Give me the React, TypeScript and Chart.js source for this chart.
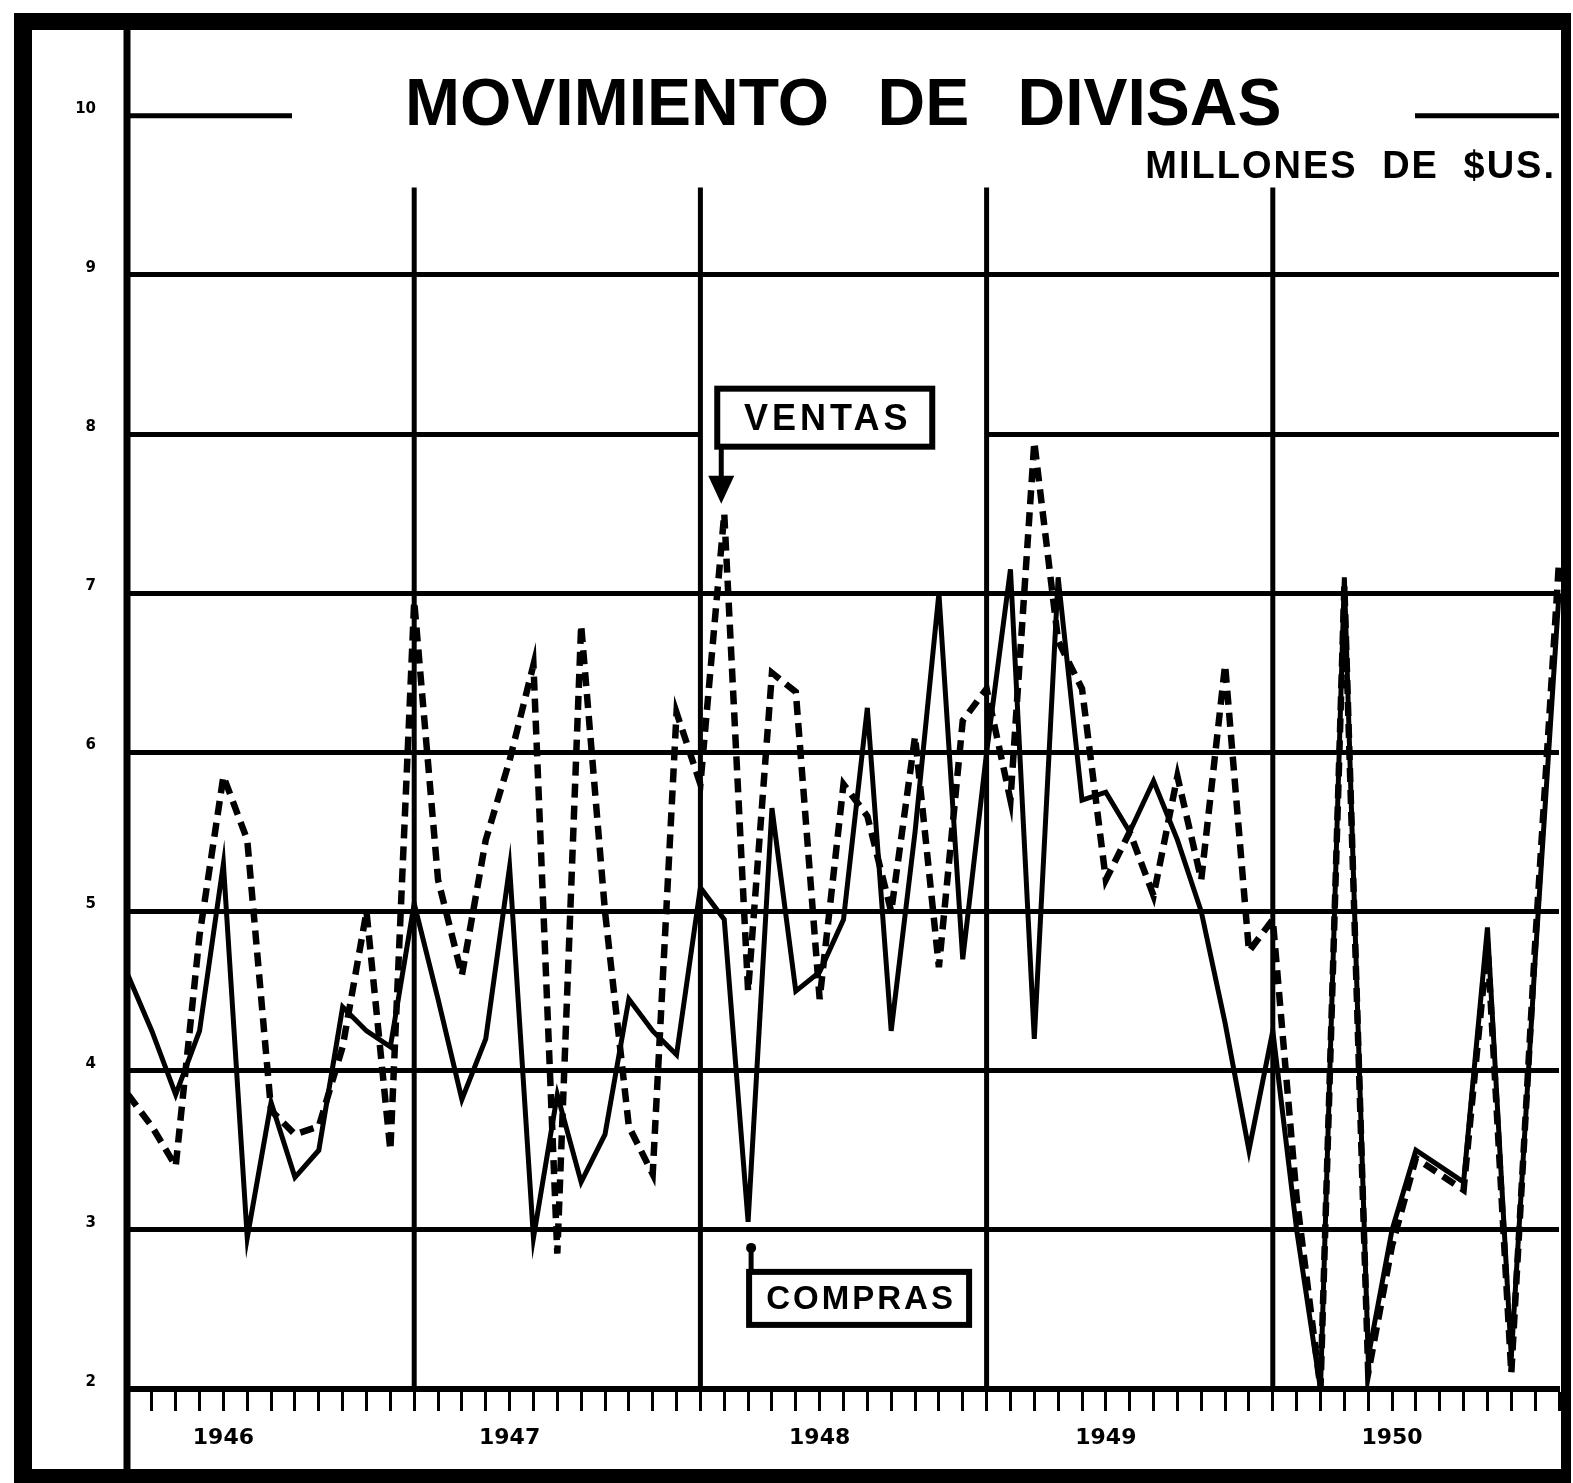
import React, { useEffect, useRef } from 'react';
import { Chart, registerables } from 'chart.js';

Chart.register(...registerables);

// ---------- DATA ----------
const YEARS = ['1946', '1947', '1948', '1949', '1950', '1951'];
const MONTHS_ES = ['Ene', 'Feb', 'Mar', 'Abr', 'May', 'Jun', 'Jul', 'Ago', 'Sep', 'Oct', 'Nov', 'Dic'];
const MONTH_LABELS: string[] = YEARS.flatMap((y) => MONTHS_ES.map((m) => `${m} ${y}`)).slice(0, 61);

// Compras (línea llena), millones de $US.
const COMPRAS = [
  4.6, 4.25, 3.85, 4.25, 5.3, 2.95, 3.8, 3.33, 3.5, 4.4, 4.25, 4.15,
  5.05, 4.45, 3.82, 4.2, 5.28, 2.95, 3.85, 3.3, 3.6, 4.45, 4.25, 4.1,
  5.15, 4.95, 3.05, 5.65, 4.5, 4.62, 4.95, 6.28, 4.25, 5.5, 7.0, 4.7,
  6.0, 7.15, 4.2, 7.1, 5.7, 5.75, 5.5, 5.82, 5.45, 5.0, 4.3, 3.5,
  4.25, 3.0, 2.0, 7.1, 2.2, 3.0, 3.5, 3.4, 3.3, 4.9, 2.2, 4.7, 7.0,
];

// Ventas (línea de trazos), millones de $US.
const VENTAS = [
  3.85, 3.65, 3.4, 4.85, 5.85, 5.45, 3.75, 3.6, 3.65, 4.15, 5.0, 3.5,
  6.95, 5.2, 4.6, 5.45, 5.95, 6.55, 2.85, 6.8, 5.0, 3.65, 3.35, 6.25,
  5.8, 7.5, 4.5, 6.5, 6.38, 4.45, 5.8, 5.6, 5.0, 6.1, 4.65, 6.2,
  6.4, 5.7, 7.95, 6.7, 6.4, 5.2, 5.5, 5.1, 5.85, 5.2, 6.55, 4.75,
  4.95, 3.2, 2.0, 7.05, 2.1, 2.9, 3.45, 3.35, 3.25, 4.8, 2.1, 4.8, 7.2,
];

const Y_TICKS = [2, 3, 4, 5, 6, 7, 8, 9, 10];
const Y_FULL_GRID = [3, 4, 5, 6, 7, 8, 9];
const X_YEAR_TICKS: Record<string, string> = {
  'May 1946': '1946',
  'May 1947': '1947',
  'Jun 1948': '1948',
  'Jun 1949': '1949',
  'Jun 1950': '1950',
};
const YEAR_STARTS = ['Ene 1947', 'Ene 1948', 'Ene 1949', 'Ene 1950'];

const TITLE = 'MOVIMIENTO DE DIVISAS';
const SUBTITLE = 'MILLONES DE $US.';
const VENTAS_TAG = 'VENTAS';
const VENTAS_ANCHOR = 'Feb 1948';
const COMPRAS_TAG = 'COMPRAS';
const COMPRAS_ANCHOR = 'Mar 1948';

const W = 1573;
const H = 1483;
const FONT = '"Liberation Sans", Arial, sans-serif';

const decorations = {
  id: 'decorations',
  beforeDraw(chart: any) {
    const { ctx } = chart;
    ctx.save();
    ctx.fillStyle = '#fff';
    ctx.fillRect(0, 0, W, H);
    ctx.restore();
  },
  beforeDatasetsDraw(chart: any) {
    const { ctx, chartArea, scales } = chart;
    const xs = scales.x;
    const ys = scales.y;
    ctx.save();
    // gap in the 8 line across the 1948 panel
    const y8 = ys.getPixelForValue(8);
    const xa = xs.getPixelForValue(MONTH_LABELS.indexOf('Ene 1948'));
    const xb = xs.getPixelForValue(MONTH_LABELS.indexOf('Ene 1949'));
    ctx.fillStyle = '#fff';
    ctx.fillRect(xa, y8 - 4, xb - xa, 8);
    // partial 10 line beside the title
    const y10 = ys.getPixelForValue(10);
    ctx.strokeStyle = '#000';
    ctx.lineWidth = 5;
    ctx.beginPath();
    ctx.moveTo(chartArea.left, y10);
    ctx.lineTo(292, y10);
    ctx.moveTo(1415, y10);
    ctx.lineTo(chartArea.right, y10);
    ctx.stroke();
    // year separators
    const yTop = ys.getPixelForValue(9.55);
    ctx.lineWidth = 5;
    YEAR_STARTS.forEach((l) => {
      const px = xs.getPixelForValue(MONTH_LABELS.indexOf(l));
      ctx.beginPath();
      ctx.moveTo(px, yTop);
      ctx.lineTo(px, chartArea.bottom);
      ctx.stroke();
    });
    ctx.restore();
  },
  afterDraw(chart: any) {
    const { ctx, chartArea, scales } = chart;
    const xs = scales.x;
    const ys = scales.y;
    ctx.save();
    ctx.fillStyle = '#000';
    ctx.strokeStyle = '#000';
    // outer frame
    ctx.fillRect(14, 13, W - 16, 17);
    ctx.fillRect(14, 13, 18, H - 13);
    ctx.fillRect(W - 12, 13, 10, H - 13);
    ctx.fillRect(14, H - 14, W - 16, 14);
    // y axis line (full height)
    ctx.lineWidth = 7;
    ctx.beginPath();
    ctx.moveTo(chartArea.left - 1, 28);
    ctx.lineTo(chartArea.left - 1, H - 12);
    ctx.stroke();

    // title
    ctx.textAlign = 'left';
    ctx.textBaseline = 'alphabetic';
    ctx.font = `bold 66px ${FONT}`;
    (ctx as any).wordSpacing = '30px';
    ctx.fillText(TITLE, 405, 125, 878);
    (ctx as any).wordSpacing = '0px';

    // subtitle
    ctx.textAlign = 'right';
    ctx.font = `bold 38px ${FONT}`;
    (ctx as any).letterSpacing = '2px';
    (ctx as any).wordSpacing = '12px';
    ctx.fillText(SUBTITLE, 1556, 178);
    (ctx as any).wordSpacing = '0px';

    // VENTAS tag
    const vi = MONTH_LABELS.indexOf(VENTAS_ANCHOR);
    const tipX = xs.getPixelForValue(vi) - 3;
    const tipY = ys.getPixelForValue(VENTAS[vi]) - 10;
    const vbx = tipX - 4;
    const vby = tipY - 115;
    const vbw = 215;
    const vbh = 58;
    ctx.fillStyle = '#fff';
    ctx.fillRect(vbx, vby, vbw, vbh);
    ctx.lineWidth = 6;
    ctx.strokeRect(vbx, vby, vbw, vbh);
    ctx.lineWidth = 5;
    ctx.beginPath();
    ctx.moveTo(tipX, vby + vbh);
    ctx.lineTo(tipX, tipY - 24);
    ctx.stroke();
    ctx.fillStyle = '#000';
    ctx.beginPath();
    ctx.moveTo(tipX - 13, tipY - 28);
    ctx.lineTo(tipX + 13, tipY - 28);
    ctx.lineTo(tipX, tipY);
    ctx.closePath();
    ctx.fill();
    ctx.textAlign = 'center';
    ctx.textBaseline = 'middle';
    ctx.font = `bold 36px ${FONT}`;
    (ctx as any).letterSpacing = '4px';
    ctx.fillText(VENTAS_TAG, vbx + vbw / 2 + 3, vby + vbh / 2 + 2);

    // COMPRAS tag
    const ci = MONTH_LABELS.indexOf(COMPRAS_ANCHOR);
    const cx = xs.getPixelForValue(ci);
    const cy = ys.getPixelForValue(COMPRAS[ci]);
    const cbx = cx + 1;
    const cby = cy + 50;
    const cbw = 220;
    const cbh = 53;
    ctx.lineWidth = 5;
    ctx.beginPath();
    ctx.moveTo(cx + 3, cby);
    ctx.lineTo(cx + 3, cy + 25);
    ctx.stroke();
    ctx.beginPath();
    ctx.arc(cx + 3, cy + 26, 5, 0, Math.PI * 2);
    ctx.fill();
    ctx.fillStyle = '#fff';
    ctx.fillRect(cbx, cby, cbw, cbh);
    ctx.lineWidth = 6;
    ctx.strokeRect(cbx, cby, cbw, cbh);
    ctx.fillStyle = '#000';
    ctx.font = `bold 33px ${FONT}`;
    (ctx as any).letterSpacing = '3px';
    ctx.fillText(COMPRAS_TAG, cbx + cbw / 2 + 2, cby + cbh / 2 + 2);
    (ctx as any).letterSpacing = '0px';
    ctx.restore();
  },
};

export default function App() {
  const ref = useRef<HTMLCanvasElement>(null);
  useEffect(() => {
    const canvas = ref.current;
    if (!canvas) return;
    const chart = new Chart(canvas, {
      type: 'line',
      data: {
        labels: MONTH_LABELS,
        datasets: [
          {
            label: 'COMPRAS',
            data: COMPRAS,
            borderColor: '#000',
            borderWidth: 5,
            pointRadius: 0,
            tension: 0,
            fill: false,
          },
          {
            label: 'VENTAS',
            data: VENTAS,
            borderColor: '#000',
            borderWidth: 6.5,
            borderDash: [14, 8],
            borderCapStyle: 'butt',
            pointRadius: 0,
            tension: 0,
            fill: false,
          },
        ],
      },
      options: {
        responsive: false,
        animation: false,
        devicePixelRatio: 1,
        layout: { padding: { top: 30, right: 11, bottom: 0, left: 0 } },
        plugins: {
          legend: { display: false },
          tooltip: { enabled: false },
          title: { display: false },
        },
        scales: {
          x: {
            type: 'category',
            offset: false,
            border: { display: true, color: '#000', width: 6 },
            grid: {
              display: true,
              drawOnChartArea: false,
              drawTicks: true,
              tickLength: 22,
              tickWidth: 3,
              tickColor: '#000',
              color: '#000',
            },
            ticks: {
              autoSkip: false,
              maxRotation: 0,
              minRotation: 0,
              padding: 14,
              color: '#000',
              font: { family: '"DejaVu Sans", sans-serif', weight: 'bold', size: 22 },
              callback: (_v: any, i: number) => X_YEAR_TICKS[MONTH_LABELS[i]] || '',
            },
            afterFit: (s: any) => {
              s.height = 94;
            },
          },
          y: {
            type: 'linear',
            min: 2,
            max: 10.47,
            border: { display: false },
            grid: {
              drawTicks: false,
              lineWidth: 5,
              color: (c: any) => (Y_FULL_GRID.includes(c.tick?.value) ? '#000' : 'rgba(0,0,0,0)'),
            },
            ticks: {
              padding: 32,
              labelOffset: -7,
              color: '#000',
              font: { family: '"DejaVu Sans", sans-serif', weight: 'bold', size: 15 },
              callback: (v: any) => String(v),
            },
            afterBuildTicks: (s: any) => {
              s.ticks = Y_TICKS.map((v) => ({ value: v }));
            },
            afterFit: (s: any) => {
              s.width = 128;
            },
          },
        },
      },
      plugins: [decorations],
    } as any);
    let alive = true;
    const fonts = (document as any).fonts;
    if (fonts && fonts.load) {
      Promise.all([
        fonts.load(`bold 66px ${FONT}`),
        fonts.load('bold 22px "DejaVu Sans"'),
      ])
        .then(() => {
          if (alive) chart.draw();
        })
        .catch(() => {});
    }
    return () => {
      alive = false;
      chart.destroy();
    };
  }, []);
  return (
    <div style={{ position: 'absolute', left: 0, top: 0, width: W, height: H, background: '#fff' }}>
      <canvas ref={ref} width={W} height={H} style={{ display: 'block', width: W, height: H }} />
    </div>
  );
}
